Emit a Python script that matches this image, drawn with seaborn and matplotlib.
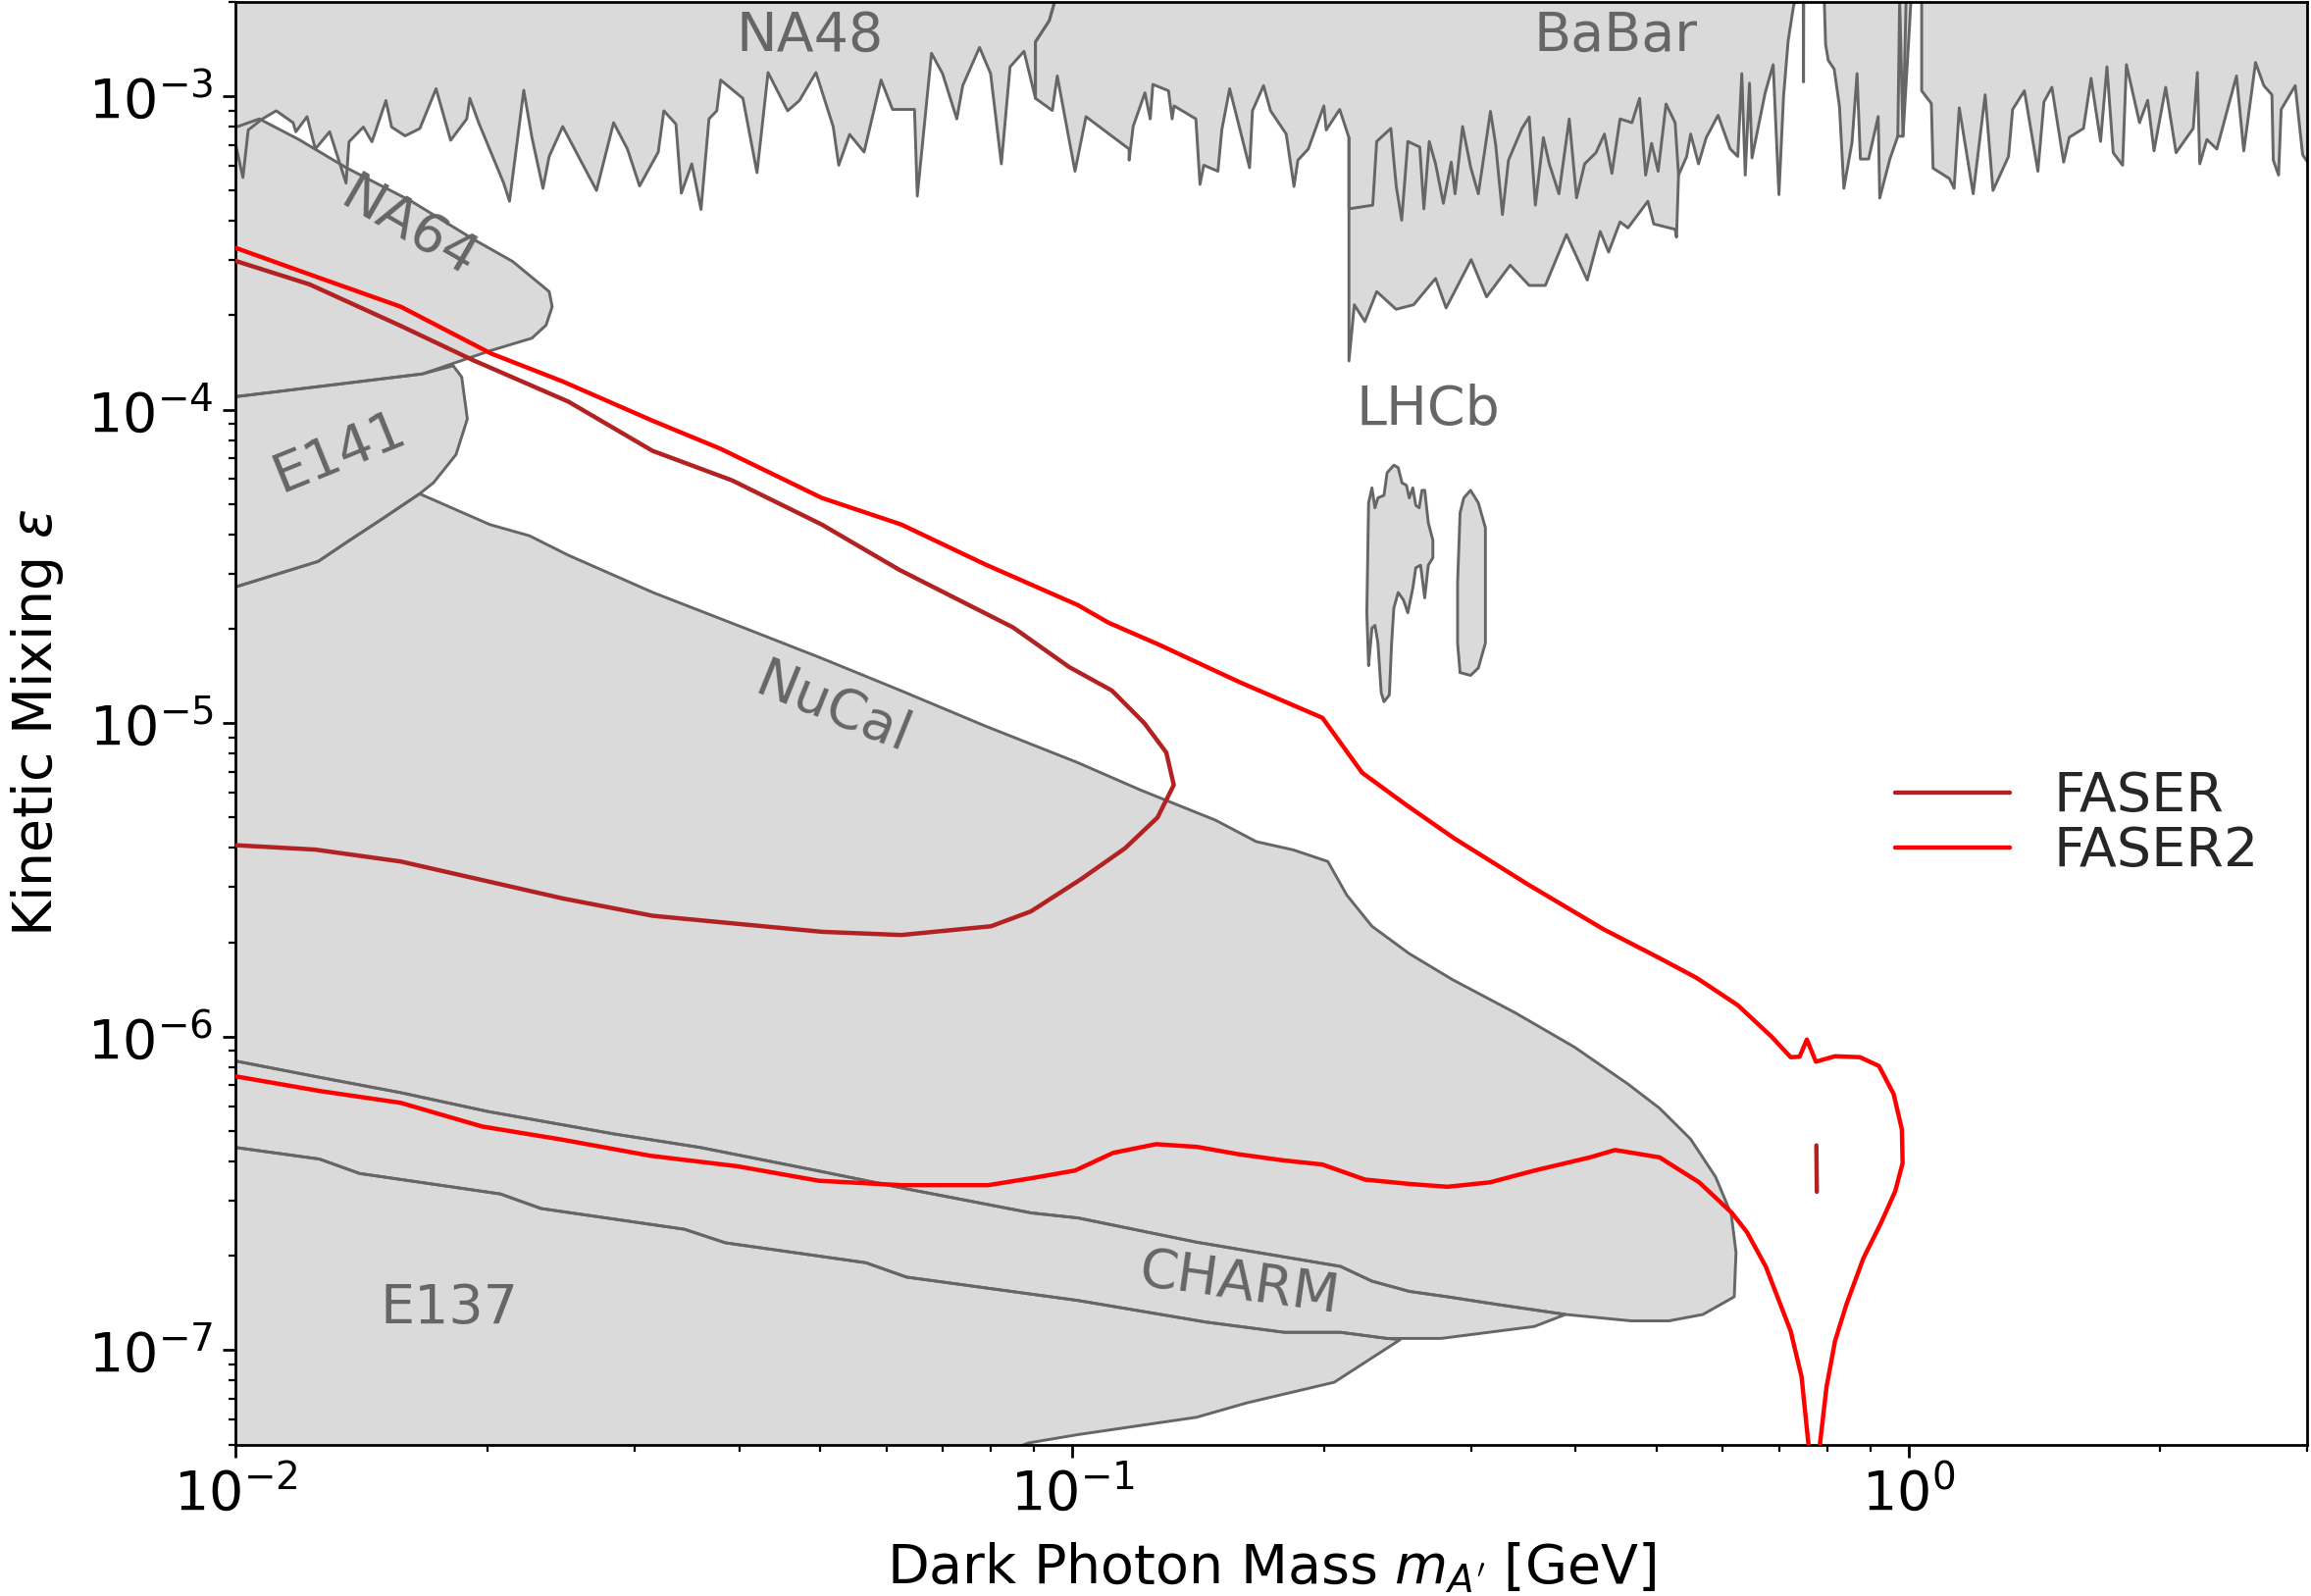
import matplotlib
matplotlib.use("Agg")
import matplotlib.pyplot as plt
import seaborn as sns
import pandas as pd

# dark photon mass [GeV], kinetic mixing epsilon
faser = [(0.0100, 2.98e-4), (0.01225, 2.51e-4), (0.01575, 1.85e-4), (0.0192, 1.44e-4),
         (0.0250, 1.06e-4), (0.0315, 7.39e-5), (0.0392, 5.95e-5), (0.0502, 4.30e-5),
         (0.0622, 3.08e-5), (0.0850, 2.02e-5), (0.0992, 1.51e-5), (0.1116, 1.27e-5),
         (0.122, 1.0e-5), (0.1296, 8.06e-6), (0.1323, 6.35e-6), (0.1265, 5.0e-6),
         (0.1157, 3.99e-6), (0.1025, 3.18e-6), (0.0893, 2.51e-6), (0.0800, 2.25e-6),
         (0.0625, 2.11e-6), (0.0502, 2.16e-6), (0.0315, 2.43e-6), (0.0246, 2.76e-6),
         (0.0198, 3.15e-6), (0.01575, 3.62e-6), (0.01245, 3.95e-6), (0.0100, 4.08e-6)]
faser_omega = [(0.776, 4.5e-7), (0.777, 3.2e-7)]

faser2 = [(0.0100, 3.28e-4), (0.01245, 2.66e-4), (0.01575, 2.13e-4), (0.0202, 1.51e-4),
          (0.0246, 1.23e-4), (0.0315, 9.22e-5), (0.0380, 7.50e-5), (0.0502, 5.23e-5),
          (0.0625, 4.30e-5), (0.0787, 3.21e-5), (0.1016, 2.38e-5), (0.1106, 2.09e-5),
          (0.1270, 1.78e-5), (0.1587, 1.35e-5), (0.1992, 1.04e-5), (0.2222, 6.95e-6),
          (0.251, 5.48e-6), (0.286, 4.30e-6), (0.3514, 3.05e-6), (0.432, 2.20e-6),
          (0.504, 1.78e-6), (0.558, 1.54e-6), (0.625, 1.26e-6), (0.686, 1.0e-6),
          (0.723, 8.60e-7), (0.741, 8.63e-7), (0.756, 9.79e-7), (0.775, 8.32e-7),
          (0.817, 8.66e-7), (0.875, 8.60e-7), (0.922, 8.06e-7), (0.960, 6.56e-7),
          (0.982, 5.06e-7), (0.984, 3.95e-7), (0.964, 3.21e-7), (0.928, 2.56e-7),
          (0.883, 1.96e-7), (0.843, 1.40e-7), (0.817, 1.07e-7), (0.798, 7.63e-8),
          (0.784, 5.06e-8), (0.771, 3.70e-8), (0.759, 5.06e-8), (0.745, 8.23e-8),
          (0.723, 1.15e-7), (0.675, 1.85e-7), (0.641, 2.38e-7), (0.615, 2.74e-7),
          (0.562, 3.43e-7), (0.504, 4.12e-7), (0.446, 4.35e-7), (0.416, 4.12e-7),
          (0.357, 3.74e-7), (0.316, 3.43e-7), (0.281, 3.32e-7), (0.253, 3.39e-7),
          (0.224, 3.50e-7), (0.1992, 3.91e-7), (0.179, 4.03e-7), (0.1587, 4.21e-7),
          (0.141, 4.45e-7), (0.126, 4.54e-7), (0.112, 4.26e-7), (0.1008, 3.74e-7),
          (0.0896, 3.54e-7), (0.0794, 3.36e-7), (0.0625, 3.36e-7), (0.0498, 3.47e-7),
          (0.0398, 3.86e-7), (0.0313, 4.17e-7), (0.0246, 4.69e-7), (0.0197, 5.17e-7),
          (0.01575, 6.15e-7), (0.0126, 6.71e-7), (0.0100, 7.47e-7)]

na48 = [(0.009, 7.0e-4), (0.0100, 7.0e-4), (0.0102, 5.5e-4), (0.01035, 7.8e-4), (0.01076, 8.46e-4),
        (0.01118, 8.98e-4), (0.01171, 8.23e-4), (0.0118, 7.7e-4), (0.01217, 8.6e-4),
        (0.01245, 6.78e-4), (0.01295, 7.7e-4), (0.01355, 5.28e-4), (0.01366, 7.15e-4),
        (0.01421, 7.97e-4), (0.01455, 7.15e-4), (0.01512, 9.68e-4), (0.01536, 7.97e-4),
        (0.01594, 7.47e-4), (0.0166, 7.88e-4), (0.01736, 1.056e-3), (0.01807, 7.23e-4),
        (0.01889, 8.46e-4), (0.01905, 9.84e-4), (0.01952, 8.23e-4), (0.02091, 5.28e-4),
        (0.02125, 4.62e-4), (0.0221, 1.044e-3), (0.0226, 7.39e-4), (0.0233, 5.08e-4),
        (0.0237, 6.42e-4), (0.0246, 8.0e-4), (0.0270, 5.0e-4), (0.0283, 8.23e-4),
        (0.0294, 6.78e-4), (0.0304, 5.17e-4), (0.0320, 6.63e-4), (0.0325, 8.98e-4),
        (0.0336, 8.14e-4), (0.0341, 4.9e-4), (0.0351, 6.08e-4), (0.0360, 4.35e-4),
        (0.0368, 8.46e-4), (0.0376, 8.98e-4), (0.0380, 1.126e-3), (0.0404, 9.84e-4),
        (0.0420, 5.7e-4), (0.0433, 1.189e-3), (0.0457, 8.98e-4), (0.0472, 9.68e-4),
        (0.0494, 1.189e-3), (0.0518, 8.0e-4), (0.0526, 6.02e-4), (0.0542, 7.55e-4),
        (0.0564, 6.63e-4), (0.0591, 1.126e-3), (0.0610, 9.07e-4), (0.0648, 9.07e-4),
        (0.0653, 4.8e-4), (0.0679, 1.37e-3), (0.0700, 1.18e-3), (0.0728, 8.46e-4),
        (0.0740, 1.08e-3), (0.0775, 1.43e-3), (0.0799, 1.18e-3), (0.0823, 6.08e-4),
        (0.0843, 1.24e-3), (0.0876, 1.39e-3), (0.0904, 9.84e-4), (0.0904, 1.49e-3),
        (0.0939, 1.74e-3), (0.0955, 2.04e-3), (0.0955, 3e-3), (0.009, 3e-3)]

babar_left = [(0.0955, 3e-3), (0.0955, 2.04e-3), (0.0939, 1.74e-3), (0.0904, 1.49e-3),
              (0.0904, 9.84e-4), (0.0947, 9.0e-4), (0.0960, 1.16e-3), (0.1008, 5.76e-4),
              (0.1039, 8.6e-4), (0.117, 6.78e-4), (0.117, 6.25e-4), (0.1183, 8.0e-4),
              (0.1222, 1.025e-3), (0.124, 8.46e-4), (0.1249, 1.09e-3), (0.1304, 1.04e-3),
              (0.1317, 8.46e-4), (0.1324, 9.31e-4), (0.1406, 8.46e-4), (0.1422, 5.23e-4),
              (0.1437, 6.02e-4), (0.1494, 5.76e-4), (0.151, 7.8e-4), (0.1543, 1.056e-3),
              (0.1567, 8.98e-4), (0.163, 5.91e-4), (0.1643, 8.98e-4), (0.1694, 1.08e-3),
              (0.1727, 8.98e-4), (0.1803, 7.57e-4), (0.1842, 5.15e-4), (0.1862, 6.25e-4),
              (0.1916, 6.78e-4), (0.200, 9.31e-4), (0.2013, 7.8e-4), (0.2089, 9.07e-4),
              (0.2143, 7.37e-4)]
babar_mid = [(0.2143, 4.37e-4), (0.2288, 4.49e-4), (0.2313, 7.17e-4), (0.2405, 7.89e-4),
             (0.2441, 5.15e-4), (0.2478, 4.02e-4), (0.252, 7.17e-4), (0.2604, 6.88e-4),
             (0.2634, 4.37e-4), (0.2673, 7.17e-4), (0.272, 6.08e-4), (0.2779, 4.55e-4),
             (0.284, 6.16e-4), (0.287, 4.88e-4), (0.293, 8.0e-4), (0.2997, 5.91e-4),
             (0.306, 4.88e-4), (0.3164, 8.94e-4), (0.321, 6.98e-4), (0.327, 4.19e-4),
             (0.3325, 6.25e-4), (0.345, 7.89e-4), (0.352, 8.58e-4), (0.358, 4.49e-4),
             (0.366, 7.37e-4), (0.372, 6.08e-4), (0.382, 4.88e-4), (0.393, 8.46e-4),
             (0.401, 4.74e-4), (0.410, 6.08e-4), (0.423, 6.6e-4), (0.433, 7.57e-4),
             (0.442, 5.67e-4), (0.452, 8.46e-4), (0.467, 8.23e-4), (0.477, 9.84e-4),
             (0.485, 5.6e-4), (0.493, 7.07e-4), (0.502, 5.76e-4), (0.513, 9.44e-4),
             (0.526, 8.23e-4), (0.531, 5.6e-4)]
babar_right = [(0.531, 5.6e-4), (0.543, 6.42e-4), (0.549, 7.57e-4), (0.561, 6.08e-4),
               (0.573, 7.37e-4), (0.592, 8.69e-4), (0.612, 6.79e-4), (0.625, 6.42e-4),
               (0.632, 1.18e-3), (0.638, 5.6e-4), (0.6455, 1.1e-3), (0.650, 6.35e-4),
               (0.674, 1.025e-3), (0.689, 1.26e-3), (0.700, 4.85e-4), (0.709, 1.0e-3),
               (0.718, 1.5e-3), (0.729, 1.95e-3), (0.735, 2.04e-3), (0.735, 3e-3)]
babar_spike = [(0.7482, 3e-3), (0.749, 1.11e-3), (0.7498, 3e-3)]
babar_omega = [(0.793, 3e-3), (0.793, 2.04e-3), (0.796, 1.46e-3), (0.802, 1.30e-3),
               (0.815, 1.22e-3), (0.827, 9.27e-4), (0.837, 5.08e-4), (0.856, 7.11e-4),
               (0.868, 1.18e-3), (0.876, 6.30e-4), (0.896, 6.30e-4), (0.920, 8.61e-4),
               (0.924, 4.73e-4), (0.950, 6.30e-4), (0.971, 7.45e-4), (0.985, 7.45e-4),
               (1.002, 1.61e-3), (1.007, 2.04e-3), (1.007, 3e-3)]
babar_bundle = [(0.971, 7.45e-4), (0.976, 2.04e-3), (0.985, 7.45e-4), (0.9935, 2.04e-3)]
babar_high = [(1.037, 3e-3), (1.037, 2.04e-3), (1.037, 1.04e-3), (1.065, 9.47e-4),
              (1.070, 5.89e-4), (1.119, 5.46e-4), (1.134, 5.08e-4), (1.150, 9.18e-4),
              (1.195, 4.88e-4), (1.235, 1.01e-3), (1.262, 5.0e-4), (1.317, 6.42e-4),
              (1.332, 9.07e-4), (1.376, 1.04e-3), (1.428, 5.76e-4), (1.452, 9.58e-4),
              (1.484, 1.067e-3), (1.533, 6.16e-4), (1.557, 7.39e-4), (1.619, 7.89e-4),
              (1.653, 1.14e-3), (1.697, 7.17e-4), (1.727, 1.24e-3), (1.757, 6.6e-4),
              (1.803, 6.02e-4), (1.822, 1.26e-3), (1.889, 8.23e-4), (1.932, 9.7e-4),
              (1.966, 6.69e-4), (2.03, 1.067e-3), (2.089, 6.6e-4), (2.19, 7.89e-4),
              (2.215, 1.19e-3), (2.23, 6.08e-4), (2.274, 7.27e-4), (2.337, 6.78e-4),
              (2.467, 1.16e-3), (2.517, 6.69e-4), (2.60, 1.28e-3), (2.66, 1.08e-3),
              (2.72, 1.01e-3), (2.73, 6.25e-4), (2.77, 5.6e-4), (2.79, 9.07e-4),
              (2.90, 1.08e-3), (2.96, 6.5e-4), (3.01, 6.08e-4), (3.2, 6.08e-4), (3.2, 3e-3)]

lhcb_prompt = [(0.2143, 1.43e-4), (0.2175, 2.16e-4), (0.2239, 1.91e-4), (0.2313, 2.38e-4),
               (0.244, 2.09e-4), (0.256, 2.16e-4), (0.272, 2.62e-4), (0.280, 2.11e-4),
               (0.300, 3.01e-4), (0.313, 2.29e-4), (0.334, 2.89e-4), (0.352, 2.49e-4),
               (0.368, 2.49e-4), (0.390, 3.62e-4), (0.413, 2.59e-4), (0.428, 3.70e-4),
               (0.438, 3.18e-4), (0.452, 3.97e-4), (0.462, 3.80e-4), (0.488, 4.62e-4),
               (0.496, 3.91e-4), (0.526, 3.76e-4), (0.528, 3.55e-4)]
lhcb_displaced_a = [(0.2262, 1.53e-5), (0.2251, 2.25e-5), (0.2262, 5.04e-5), (0.2283, 5.63e-5),
                    (0.2302, 4.86e-5), (0.2321, 5.23e-5), (0.236, 5.33e-5), (0.238, 6.29e-5),
                    (0.2425, 6.65e-5), (0.2454, 6.53e-5), (0.248, 5.84e-5), (0.251, 5.74e-5),
                    (0.253, 5.23e-5), (0.2555, 5.63e-5), (0.2576, 4.95e-5), (0.260, 4.86e-5),
                    (0.262, 5.53e-5), (0.264, 5.53e-5), (0.2666, 4.36e-5), (0.270, 3.83e-5),
                    (0.270, 3.37e-5), (0.2666, 3.19e-5), (0.264, 2.51e-5), (0.261, 3.19e-5),
                    (0.2576, 3.13e-5), (0.2555, 2.70e-5), (0.252, 2.25e-5), (0.249, 2.47e-5),
                    (0.2454, 2.61e-5), (0.2425, 2.33e-5), (0.241, 1.80e-5), (0.2395, 1.23e-5),
                    (0.236, 1.17e-5), (0.2342, 1.25e-5), (0.2321, 1.80e-5), (0.2302, 2.05e-5),
                    (0.2283, 2.01e-5)]
lhcb_displaced_b = [(0.291, 1.45e-5), (0.289, 1.80e-5), (0.289, 2.80e-5), (0.291, 4.69e-5),
                    (0.294, 5.23e-5), (0.2995, 5.53e-5), (0.306, 5.04e-5), (0.312, 4.20e-5),
                    (0.312, 1.80e-5), (0.306, 1.50e-5), (0.2995, 1.42e-5)]

na64 = [(0.009, 7.2e-4), (0.01067, 8.46e-4), (0.0119, 7.27e-4), (0.01356, 5.91e-4),
        (0.01622, 4.62e-4), (0.01922, 3.50e-4), (0.02143, 2.97e-4), (0.0237, 2.38e-4),
        (0.0239, 2.13e-4), (0.0235, 1.86e-4), (0.0226, 1.69e-4), (0.02013, 1.54e-4),
        (0.01672, 1.30e-4), (0.0100, 1.10e-4), (0.009, 1.08e-4)]
e141 = [(0.009, 1.08e-4), (0.0100, 1.10e-4), (0.01672, 1.30e-4), (0.0182, 1.38e-4),
        (0.01863, 1.27e-4), (0.01892, 9.34e-5), (0.01834, 7.19e-5), (0.01724, 5.85e-5),
        (0.01659, 5.39e-5), (0.0150, 4.50e-5), (0.01356, 3.77e-5), (0.01255, 3.28e-5),
        (0.0100, 2.72e-5), (0.009, 2.6e-5)]
nucal_upper = [(0.009, 2.6e-5), (0.0100, 2.72e-5), (0.01255, 3.28e-5), (0.01356, 3.77e-5),
               (0.0150, 4.50e-5), (0.01659, 5.39e-5), (0.02013, 4.30e-5), (0.02245, 3.96e-5),
               (0.0250, 3.43e-5), (0.03155, 2.61e-5), (0.0404, 2.02e-5), (0.0502, 1.61e-5),
               (0.0624, 1.27e-5), (0.0786, 9.81e-6), (0.1016, 7.48e-6), (0.1207, 6.12e-6),
               (0.1485, 4.90e-6), (0.166, 4.19e-6), (0.184, 3.94e-6), (0.2022, 3.62e-6),
               (0.213, 2.83e-6), (0.2283, 2.25e-6), (0.253, 1.84e-6), (0.285, 1.52e-6),
               (0.339, 1.19e-6), (0.3985, 9.27e-7), (0.462, 7.06e-7), (0.504, 5.91e-7),
               (0.549, 4.71e-7), (0.588, 3.57e-7), (0.614, 2.71e-7), (0.622, 2.05e-7),
               (0.619, 1.48e-7), (0.568, 1.30e-7), (0.517, 1.24e-7), (0.466, 1.24e-7)]
charm_top = [(0.009, 8.5e-7), (0.0100, 8.36e-7), (0.01259, 7.42e-7), (0.01574, 6.63e-7),
             (0.02003, 5.77e-7), (0.02826, 4.90e-7), (0.03595, 4.43e-7), (0.0490, 3.76e-7),
             (0.0634, 3.27e-7), (0.0894, 2.74e-7), (0.1017, 2.64e-7), (0.1409, 2.21e-7),
             (0.2094, 1.85e-7), (0.2283, 1.66e-7), (0.253, 1.54e-7), (0.281, 1.48e-7),
             (0.3275, 1.39e-7), (0.389, 1.30e-7)]
charm_bottom = [(0.009, 4.5e-7), (0.0100, 4.43e-7), (0.01259, 4.07e-7), (0.01407, 3.66e-7),
                (0.02072, 3.15e-7), (0.02318, 2.83e-7), (0.0344, 2.43e-7), (0.0385, 2.20e-7),
                (0.0567, 1.90e-7), (0.0634, 1.71e-7), (0.1017, 1.44e-7), (0.1443, 1.23e-7),
                (0.1794, 1.14e-7), (0.2094, 1.14e-7), (0.238, 1.09e-7), (0.276, 1.09e-7),
                (0.357, 1.19e-7)]
e137_edge = [(0.2467, 1.08e-7), (0.2058, 7.90e-8), (0.1618, 6.79e-8), (0.1409, 6.11e-8),
             (0.1017, 5.38e-8), (0.0887, 5.06e-8), (0.0729, 4.12e-8), (0.009, 4e-8)]

labels = [("NA48", 0.0486, 1.55e-3, 0), ("BaBar", 0.446, 1.55e-3, 0),
          ("NA64", 0.0161, 3.8e-4, -30), ("E141", 0.0133, 7.3e-5, 22),
          ("NuCal", 0.0517, 1.11e-5, -22), ("LHCb", 0.2667, 1.0e-4, 0),
          ("CHARM", 0.1587, 1.62e-7, -8), ("E137", 0.0180, 1.36e-7, 0)]

FILL = "#dadada"
EDGE = "#666666"

sns.set_theme(style="ticks", rc={
    "font.size": 20, "axes.labelsize": 20, "xtick.labelsize": 20, "ytick.labelsize": 20,
    "legend.fontsize": 20, "axes.linewidth": 1.0, "axes.edgecolor": "black",
    "xtick.color": "black", "ytick.color": "black", "axes.labelcolor": "black",
    "xtick.major.size": 4.7, "ytick.major.size": 4.7, "xtick.minor.size": 2.6,
    "ytick.minor.size": 2.6, "xtick.major.width": 1.0, "ytick.major.width": 1.0,
    "xtick.minor.width": 0.8, "ytick.minor.width": 0.8})
plt.rcParams["font.family"] = ["DejaVu Sans"]

fig = plt.figure(figsize=(11.78, 8.135), dpi=200)
ax = fig.add_axes([0.102, 0.0949, 0.8965, 0.904])
ax.set_xscale("log")
ax.set_yscale("log")

regions = [na48, babar_left + lhcb_prompt + babar_right, babar_spike, babar_omega, babar_high,
           lhcb_displaced_a, lhcb_displaced_b, na64, e141,
           nucal_upper + charm_top[::-1], charm_top + charm_bottom[::-1],
           charm_bottom[:15] + e137_edge]
for pts in regions:
    m, e = zip(*pts)
    ax.fill(m, e, facecolor=FILL, edgecolor="none", zorder=1)
for pts in regions:
    pts = pts + pts[:1]
    m, e = zip(*pts)
    ax.plot(m, e, color=EDGE, lw=1.05, zorder=2)
for pts in [babar_left[-1:] + babar_mid, babar_bundle]:
    m, e = zip(*pts)
    ax.plot(m, e, color=EDGE, lw=1.05, zorder=2)

df1 = pd.DataFrame(faser, columns=["mass", "eps"])
df2 = pd.DataFrame(faser2, columns=["mass", "eps"])
dfo = pd.DataFrame(faser_omega, columns=["mass", "eps"])
sns.lineplot(data=df1, x="mass", y="eps", sort=False, estimator=None, color="firebrick",
             lw=1.6, label="FASER", ax=ax, zorder=3)
sns.lineplot(data=df2, x="mass", y="eps", sort=False, estimator=None, color="red",
             lw=1.6, label="FASER2", ax=ax, zorder=3)
sns.lineplot(data=dfo, x="mass", y="eps", sort=False, estimator=None, color="firebrick",
             lw=1.6, ax=ax, zorder=3)

for txt, xm, ye, rot in labels:
    ax.text(xm, ye, txt, color=EDGE, fontsize=20, rotation=rot,
            ha="center", va="center", rotation_mode="anchor", zorder=4)

ax.set_xlim(0.01, 3)
ax.set_ylim(5e-8, 2e-3)
ax.set_xlabel(r"Dark Photon Mass $m_{A'}$ [GeV]", labelpad=7.5)
ax.set_ylabel(r"Kinetic Mixing $\epsilon$", labelpad=8)
ax.legend(loc="center right", bbox_to_anchor=(1.0, 0.43), frameon=False,
          handlelength=2.1, labelspacing=0.03)

fig.savefig("out.png", dpi=200)
